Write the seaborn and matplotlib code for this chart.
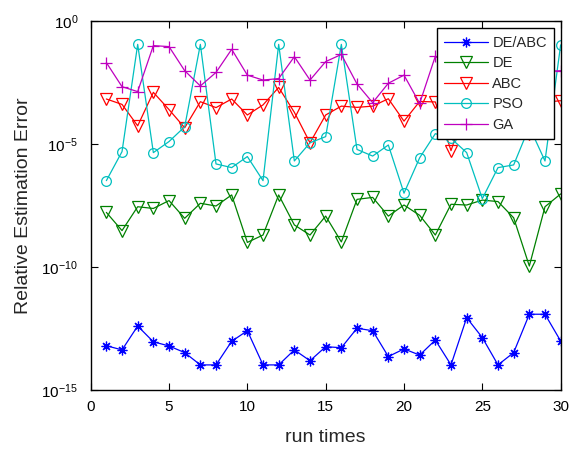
import numpy as np
import pandas as pd
import matplotlib
matplotlib.use("Agg")
import matplotlib.pyplot as plt
import seaborn as sns

runs = list(range(1, 31))

# log10 of the relative estimation error per run
de_abc = [-13.20, -13.37, -12.40, -13.04, -13.21, -13.48, -13.98, -13.98, -13.02, -12.59,
          -13.98, -13.98, -13.37, -13.81, -13.24, -13.28, -12.49, -12.59, -13.64, -13.33,
          -13.58, -12.97, -13.98, -12.06, -12.87, -13.98, -13.48, -11.92, -11.92, -13.01]
de = [-7.78, -8.52, -7.55, -7.62, -7.30, -8.02, -7.41, -7.52, -7.07, -9.00,
      -8.70, -7.07, -8.29, -8.70, -7.93, -8.98, -7.25, -7.17, -7.93, -7.48,
      -7.90, -8.70, -7.45, -7.48, -7.28, -7.34, -8.00, -9.96, -7.55, -7.03]
abc = [-3.17, -3.39, -4.26, -2.90, -3.60, -4.34, -3.28, -3.52, -3.17, -3.82,
       -3.41, -2.70, -3.71, -4.95, -3.82, -3.46, -3.51, -3.46, -3.16, -4.07,
       -3.27, -3.29, -5.27, -3.40, -3.30, -3.50, -3.20, -4.60, -3.30, -3.24]
pso = [-6.49, -5.31, -0.95, -5.35, -4.90, -4.30, -0.95, -5.81, -5.96, -5.51,
       -6.49, -0.95, -5.69, -4.95, -4.70, -0.95, -5.22, -5.49, -5.04, -7.00,
       -5.56, -4.58, -4.77, -5.35, -7.22, -5.96, -5.85, -4.30, -5.69, -0.97]
ga = [-1.69, -2.67, -2.87, -1.00, -1.04, -2.02, -2.64, -2.09, -1.15, -2.20,
      -2.40, -2.34, -1.45, -2.40, -1.65, -1.36, -2.56, -3.32, -2.53, -2.20,
      -3.35, -1.43, -1.90, -2.40, -1.60, -2.20, -2.80, -1.80, -2.05, -2.02]

names = ["DE/ABC", "DE", "ABC", "PSO", "GA"]
series = [de_abc, de, abc, pso, ga]
colors = ["#0000ff", "#008000", "#ff0000", "#00bfbf", "#bf00bf"]
markers = [(8, 2, 0), "v", "v", "o", "+"]
msizes = [7, 8, 8, 7, 9]

sns.set_style("ticks")
plt.rcParams["font.family"] = ["Liberation Sans", "DejaVu Sans"]
plt.rcParams["mathtext.fontset"] = "custom"
plt.rcParams["mathtext.rm"] = "Liberation Sans"
plt.rcParams["mathtext.it"] = "Liberation Sans:italic"

fig = plt.figure(figsize=(5.78, 4.49), dpi=100)
ax = fig.add_axes([0.1569, 0.1314, 0.8131, 0.8218])

for name, vals, c, m, ms in zip(names, series, colors, markers, msizes):
    sns.lineplot(x=runs, y=10.0 ** np.array(vals), ax=ax, color=c, marker=m,
                 markersize=ms, mfc="none", mec=c, mew=0.9, linewidth=0.9,
                 label=name)

ax.set_yscale("log")
ax.set_xlim(0, 30)
ax.set_ylim(1e-15, 1)
ax.set_xticks([0, 5, 10, 15, 20, 25, 30])
ax.set_yticks([1e-15, 1e-10, 1e-5, 1])
ax.minorticks_off()
ax.tick_params(direction="in", length=5, width=0.8, top=True, right=True,
               labelsize=11, colors="black")
ax.tick_params(axis="x", pad=7)
ax.tick_params(axis="y", pad=9)
for sp in ax.spines.values():
    sp.set_visible(True)
    sp.set_color("black")
    sp.set_linewidth(1)

ax.set_xlabel("run times", fontsize=14, labelpad=11)
ax.set_ylabel("Relative Estimation Error", fontsize=14, labelpad=7)

leg = ax.legend(loc="upper right", bbox_to_anchor=(0.986, 0.98), fontsize=10.5,
                frameon=True, fancybox=False, framealpha=1, edgecolor="black",
                handlelength=3.0, handletextpad=0.3, labelspacing=0.45,
                borderpad=0.5, borderaxespad=0)
leg.get_frame().set_linewidth(1)

fig.savefig("out.png", dpi=100)
